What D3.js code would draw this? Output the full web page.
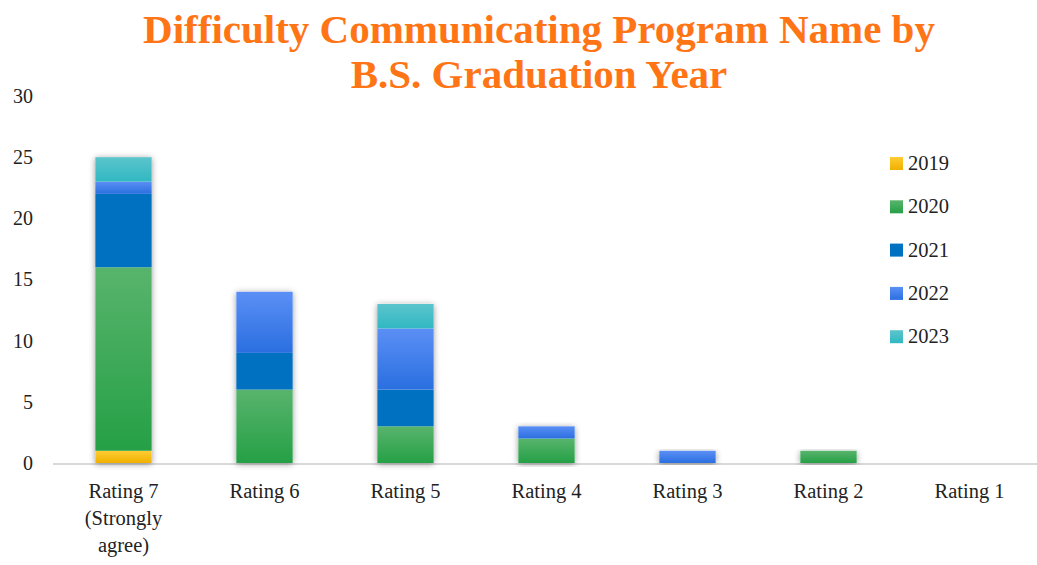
<!DOCTYPE html>
<html><head><meta charset="utf-8">
<script src="https://cdn.jsdelivr.net/npm/d3@7"></script>
<style>body{margin:0;background:#fff}svg{display:block}</style>
</head><body><svg id="c" width="1037" height="565"></svg>
<script>
const categories = ["Rating 7 (Strongly agree)","Rating 6","Rating 5","Rating 4","Rating 3","Rating 2","Rating 1"];
const categoryLines = [["Rating 7","(Strongly","agree)"],["Rating 6"],["Rating 5"],["Rating 4"],["Rating 3"],["Rating 2"],["Rating 1"]];
const seriesNames = ["2019","2020","2021","2022","2023"];
const s2019 = [1,0,0,0,0,0,0];
const s2020 = [15,6,3,2,0,1,0];
const s2021 = [6,3,3,0,0,0,0];
const s2022 = [1,5,5,1,1,0,0];
const s2023 = [2,0,2,0,0,0,0];
const yTicks = [0,5,10,15,20,25,30];
const titleLines = ["Difficulty Communicating Program Name by","B.S. Graduation Year"];

const colors = {"2019":["#ffcc33","#f0b000"],"2020":["#58b46c","#25a046"],"2021":["#0070c0","#0070c0"],"2022":["#5b8ff5","#2a6fe0"],"2023":["#5cc4cc","#30b8c2"]};
const seriesVals = [s2019,s2020,s2021,s2022,s2023];

const svg = d3.select("#c");
const defs = svg.append("defs");
seriesNames.forEach((n,i)=>{
  const g = defs.append("linearGradient").attr("id","g"+i).attr("x1",0).attr("y1",0).attr("x2",0).attr("y2",1);
  g.append("stop").attr("offset","0%").attr("stop-color",colors[n][0]);
  g.append("stop").attr("offset","100%").attr("stop-color",colors[n][1]);
});
const f = defs.append("filter").attr("id","sh").attr("x","-30%").attr("y","-10%").attr("width","160%").attr("height","120%");
f.append("feDropShadow").attr("dx",0).attr("dy",1).attr("stdDeviation",3).attr("flood-color","#000").attr("flood-opacity",0.4);

const x = d3.scaleBand().domain(categories).range([53,1040]).paddingInner(0.6).paddingOuter(0.3);
const y = d3.scaleLinear().domain([0,30]).range([463,96]);

// title
const tt = svg.append("text").attr("text-anchor","middle").attr("font-family","Liberation Serif, serif")
  .attr("font-weight","bold").attr("font-size",41).attr("fill","#ff7415");
titleLines.forEach((t,i)=>tt.append("tspan").attr("x",539).attr("y",43+i*45).text(t));

// y axis labels
const ya = svg.append("g").attr("transform","translate(33,0)")
  .call(d3.axisLeft(y).tickValues(yTicks).tickSize(0).tickPadding(0));
ya.select(".domain").remove();
ya.selectAll("text").attr("font-family","Liberation Serif, serif").attr("font-size",20).attr("fill","#222").attr("dy","0.32em");

// baseline
svg.append("line").attr("x1",53).attr("x2",1037).attr("y1",y(0)+1).attr("y2",y(0)+1).attr("stroke","#d9d9d9").attr("stroke-width",2);

// stacks
const table = categories.map((c,i)=>{const o={cat:c}; seriesNames.forEach((n,j)=>o[n]=seriesVals[j][i]); return o;});
const stacked = d3.stack().keys(seriesNames)(table);
const barsG = svg.append("g");
barsG.selectAll("rect.sh").data(table).join("rect")
  .attr("x",d=>x(d.cat)).attr("width",x.bandwidth())
  .attr("y",d=>y(d3.sum(seriesNames,n=>d[n]))).attr("height",d=>y(0)-y(d3.sum(seriesNames,n=>d[n])))
  .attr("fill","#fff").attr("filter","url(#sh)");
stacked.forEach((layer,i)=>{
  barsG.selectAll("rect.s"+i).data(layer).join("rect")
    .attr("x",d=>x(d.data.cat)).attr("width",x.bandwidth())
    .attr("y",d=>y(d[1])).attr("height",d=>y(d[0])-y(d[1]))
    .attr("fill","url(#g"+i+")");
});

// x labels
const xl = svg.append("g");
categories.forEach((c,i)=>{
  const t = xl.append("text").attr("text-anchor","middle").attr("font-family","Liberation Serif, serif").attr("font-size",20.5).attr("fill","#222");
  categoryLines[i].forEach((l,k)=>t.append("tspan").attr("x",x(c)+x.bandwidth()/2).attr("y",498+k*27).text(l));
});

// legend
const lg = svg.append("g");
seriesNames.forEach((n,i)=>{
  const yy = 163+i*43.3;
  lg.append("rect").attr("x",890).attr("y",yy-6).attr("width",13).attr("height",13).attr("fill","url(#g"+i+")");
  lg.append("text").attr("x",908).attr("y",yy+7).attr("font-family","Liberation Serif, serif").attr("font-size",20.5).attr("fill","#222").text(n);
});
</script></body></html>
